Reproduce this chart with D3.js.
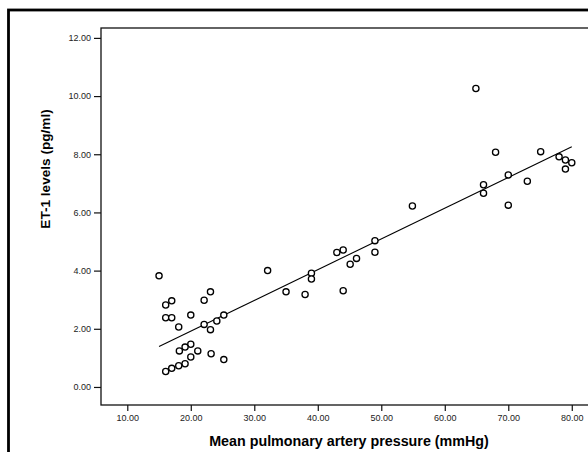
<!DOCTYPE html>
<html>
<head>
<meta charset="utf-8">
<script src="https://cdn.jsdelivr.net/npm/d3@7"></script>
<style>
  body { margin: 0; background: #fff; }
  svg { display: block; }
</style>
</head>
<body>
<div id="chart"></div>
<script>
// mean pulmonary artery pressure (mmHg)
var mpap = [15, 23.1, 22.1, 17, 16.05, 20, 16.05, 17, 25.2, 24.1, 22.1, 18.1,
            23.1, 20, 19.1, 18.2, 21.1, 23.2, 20, 25.2, 19.1, 18.1, 17, 16.05,
            32.1, 35, 38, 39, 39, 43, 44, 45.1, 46.1, 44, 49, 49,
            64.9, 54.9, 66.1, 66.1, 68, 75.1, 70, 73, 70, 78, 79, 80, 79];
// ET-1 levels (pg/ml)
var et1  = [3.82, 3.27, 2.98, 2.96, 2.82, 2.47, 2.38, 2.38, 2.47, 2.27, 2.15, 2.06,
            1.97, 1.47, 1.37, 1.24, 1.24, 1.14, 1.03, 0.94, 0.80, 0.73, 0.64, 0.53,
            4.0, 3.27, 3.18, 3.91, 3.71, 4.62, 4.71, 4.22, 4.42, 3.31, 5.03, 4.63,
            10.26, 6.22, 6.95, 6.66, 8.07, 8.09, 7.29, 7.07, 6.25, 7.91, 7.80, 7.71, 7.49];

var xTicks = [10, 20, 30, 40, 50, 60, 70, 80];
var yTicks = [0, 2, 4, 6, 8, 10, 12];

// fitted regression line at its two ends
var fitX = [15, 80];
var fitY = [1.39, 8.26];

var width = 588, height = 452;
var margin = {top: 28, right: -6, bottom: 47, left: 101};

var svg = d3.select("#chart")
  .append("svg")
    .attr("width", width)
    .attr("height", height);

// outer frame, cut off at right and bottom like the scan
svg.append("rect")
    .attr("x", 8.5)
    .attr("y", 10)
    .attr("width", 600)
    .attr("height", 460)
    .attr("fill", "none")
    .attr("stroke", "#000")
    .attr("stroke-width", 2.8);

var x = d3.scaleLinear()
    .domain([5.86, 83.5])
    .range([margin.left, width - margin.right]);

var y = d3.scaleLinear()
    .domain([-0.62, 12.34])
    .range([height - margin.bottom, margin.top]);

// plot box
svg.append("rect")
    .attr("x", margin.left)
    .attr("y", margin.top)
    .attr("width", 600)
    .attr("height", (height - margin.bottom) - margin.top)
    .attr("fill", "none")
    .attr("stroke", "#111")
    .attr("stroke-width", 1.3);

var xAxis = svg.append("g")
    .attr("transform", "translate(0," + (height - margin.bottom) + ")")
    .call(d3.axisBottom(x)
      .tickValues(xTicks)
      .tickSize(6)
      .tickPadding(4)
      .tickFormat(d3.format(".2f")));

var yAxis = svg.append("g")
    .attr("transform", "translate(" + margin.left + ",0)")
    .call(d3.axisLeft(y)
      .tickValues(yTicks)
      .tickSize(7)
      .tickPadding(3)
      .tickFormat(d3.format(".2f")));

[xAxis, yAxis].forEach(function(ax) {
  ax.select(".domain").remove();
  ax.selectAll("line").attr("stroke", "#111").attr("stroke-width", 1.2);
  ax.selectAll("text")
    .attr("fill", "#222")
    .style("font-family", "Arial, 'Liberation Sans', sans-serif")
    .style("font-size", "9px");
});

// regression line
svg.append("path")
    .datum(d3.zip(fitX, fitY))
    .attr("fill", "none")
    .attr("stroke", "#000")
    .attr("stroke-width", 1.1)
    .attr("d", d3.line()
      .x(function(d) { return x(d[0]); })
      .y(function(d) { return y(d[1]); }));

// the patients
svg.selectAll("circle.pt")
  .data(d3.zip(mpap, et1))
  .enter().append("circle")
    .attr("class", "pt")
    .attr("cx", function(d) { return x(d[0]); })
    .attr("cy", function(d) { return y(d[1]); })
    .attr("r", 3.1)
    .attr("fill", "#fff")
    .attr("stroke", "#000")
    .attr("stroke-width", 1.3);

svg.append("text")
    .attr("x", 349)
    .attr("y", 446)
    .attr("text-anchor", "middle")
    .style("font-family", "Arial, 'Liberation Sans', sans-serif")
    .style("font-weight", "bold")
    .style("font-size", "14.3px")
    .text("Mean pulmonary artery pressure (mmHg)");

svg.append("text")
    .attr("transform", "translate(50,169) rotate(-90)")
    .attr("text-anchor", "middle")
    .style("font-family", "Arial, 'Liberation Sans', sans-serif")
    .style("font-weight", "bold")
    .style("font-size", "13.6px")
    .text("ET-1 levels (pg/ml)");
</script>
</body>
</html>
